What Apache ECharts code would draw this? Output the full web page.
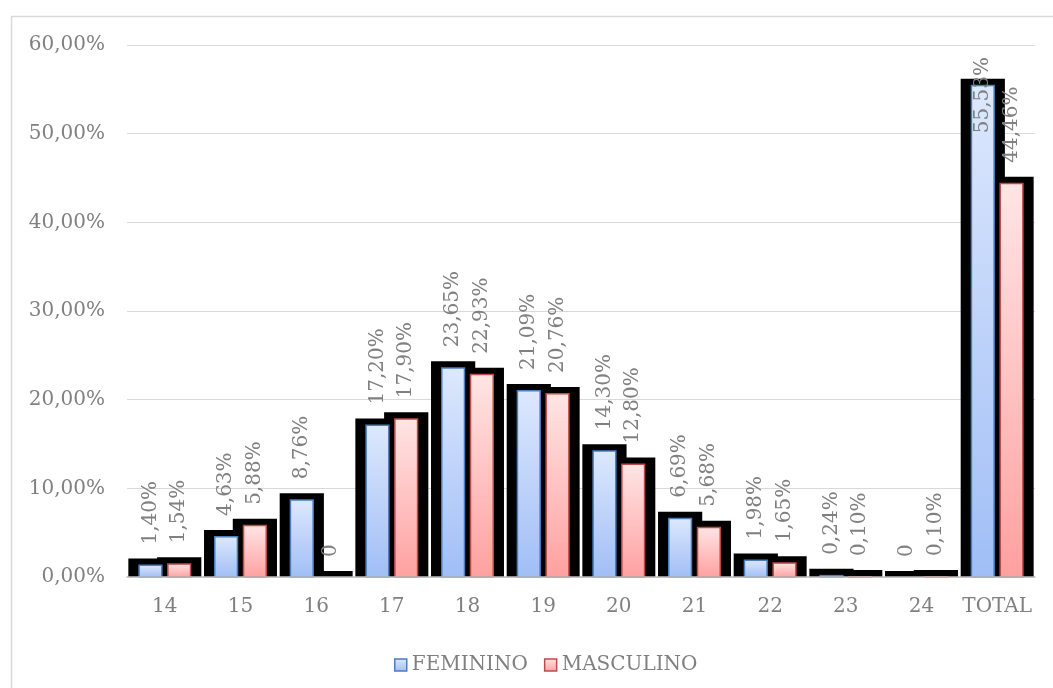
<!DOCTYPE html>
<html>
<head>
<meta charset="utf-8">
<script src="https://cdn.jsdelivr.net/npm/echarts@6/dist/echarts.min.js"></script>
<style>
  html, body { margin: 0; padding: 0; background: #ffffff; }
  #chart { width: 1053px; height: 688px; }
</style>
</head>
<body>
<div id="chart"></div>
<script>
// Ages and share of students per sex (percent)
const categories = ['14', '15', '16', '17', '18', '19', '20', '21', '22', '23', '24', 'TOTAL'];
const feminino  = [1.40, 4.63, 8.76, 17.20, 23.65, 21.09, 14.30, 6.69, 1.98, 0.24, 0, 55.53];
const masculino = [1.54, 5.88, 0, 17.90, 22.93, 20.76, 12.80, 5.68, 1.65, 0.10, 0.10, 44.46];
const yTicks = { min: 0, max: 60, interval: 10 };

const FONT_FAMILY = 'DejaVu Serif';
const FONT_SIZE = 20;
const TEXT_GRAY = '#808080';

const palette = [
  { name: 'FEMININO',  top: '#dde8fd', bottom: '#a0bef6', border: '#4a7ebf' },
  { name: 'MASCULINO', top: '#ffe5e5', bottom: '#ffa0a0', border: '#be4b48' }
];

function gradient(p) {
  return new echarts.graphic.LinearGradient(0, 0, 0, 1, [
    { offset: 0, color: p.top },
    { offset: 1, color: p.bottom }
  ]);
}

function fmt(v) {
  return v === 0 ? '0' : v.toFixed(2).replace('.', ',') + '%';
}

const measureCtx = document.createElement('canvas').getContext('2d');
measureCtx.font = FONT_SIZE + 'px "' + FONT_FAMILY + '"';
function textLen(t) { return measureCtx.measureText(t).width; }

const chart = echarts.init(document.getElementById('chart'), null, { renderer: 'canvas' });

function makeRenderer(seriesPos) {
  return function (params, api) {
    const idx = api.value(0);
    const val = api.value(1);
    const base = api.coord([idx, 0]);
    const top = api.coord([idx, val]);
    const band = api.size([1, 0])[0];
    const barW = band * 0.32;
    const gap = band * 0.06;
    const x = seriesPos === 0 ? base[0] - gap / 2 - barW : base[0] + gap / 2;
    const h = base[1] - top[1];
    const padX = 10, padTop = 6;
    const p = palette[seriesPos];

    // keep labels inside the plotting area
    const text = fmt(val);
    const len = textLen(text);
    const plotTop = params.coordSys.y + 12;
    let labelBottom = top[1] - 20;
    if (labelBottom - len < plotTop) labelBottom = plotTop + len;

    const children = [
      {
        type: 'rect',
        z2: 0,
        shape: { x: x - padX, y: top[1] - padTop, width: barW + 2 * padX, height: h + padTop },
        style: { fill: '#000000' }
      }
    ];
    if (h > 0.5) {
      children.push({
        type: 'rect',
        z2: 10,
        shape: { x: x + 0.75, y: top[1] + 0.75, width: barW - 1.5, height: h - 0.75 },
        style: { fill: gradient(p), stroke: p.border, lineWidth: 1.5 }
      });
    }
    children.push({
      type: 'text',
      z2: 20,
      x: x + barW / 2,
      y: labelBottom,
      rotation: Math.PI / 2,
      style: {
        text: text,
        fill: TEXT_GRAY,
        font: FONT_SIZE + 'px "' + FONT_FAMILY + '"',
        align: 'left',
        verticalAlign: 'middle'
      }
    });
    return { type: 'group', children: children };
  };
}

const option = {
  animation: false,
  backgroundColor: '#ffffff',
  textStyle: { fontFamily: FONT_FAMILY },
  graphic: [{
    type: 'rect',
    left: 9, top: 14,
    shape: { width: 1100, height: 700 },
    style: { fill: 'none', stroke: '#d9d9d9', lineWidth: 1.5 },
    silent: true,
    z: -1
  }],
  grid: { left: 127, right: 18, top: 45, bottom: 111, containLabel: false },
  legend: {
    top: 650,
    left: 389,
    icon: 'rect',
    itemWidth: 12,
    itemHeight: 12,
    itemGap: 16,
    textStyle: { color: TEXT_GRAY, fontSize: FONT_SIZE, fontFamily: FONT_FAMILY },
    data: palette.map(p => ({
      name: p.name,
      itemStyle: { color: gradient(p), borderColor: p.border, borderWidth: 1.5 }
    }))
  },
  xAxis: {
    type: 'category',
    data: categories,
    z: 5,
    axisTick: { show: false },
    axisLine: { lineStyle: { color: '#bfbfbf', width: 1.5 } },
    axisLabel: { interval: 0, color: TEXT_GRAY, fontSize: FONT_SIZE, fontFamily: FONT_FAMILY, margin: 20 }
  },
  yAxis: {
    type: 'value',
    min: yTicks.min,
    max: yTicks.max,
    interval: yTicks.interval,
    axisLine: { show: false },
    axisTick: { show: false },
    splitLine: { lineStyle: { color: '#d9d9d9', width: 1 } },
    axisLabel: {
      color: TEXT_GRAY, fontSize: FONT_SIZE, fontFamily: FONT_FAMILY, margin: 22,
      formatter: v => v.toFixed(2).replace('.', ',') + '%'
    }
  },
  series: [
    {
      name: 'FEMININO',
      type: 'custom',
      z: 2,
      renderItem: makeRenderer(0),
      itemStyle: { color: palette[0].bottom },
      encode: { x: 0, y: 1 },
      data: feminino.map((v, i) => [i, v])
    },
    {
      name: 'MASCULINO',
      type: 'custom',
      z: 2,
      renderItem: makeRenderer(1),
      itemStyle: { color: palette[1].bottom },
      encode: { x: 0, y: 1 },
      data: masculino.map((v, i) => [i, v])
    }
  ]
};

chart.setOption(option);
</script>
</body>
</html>
